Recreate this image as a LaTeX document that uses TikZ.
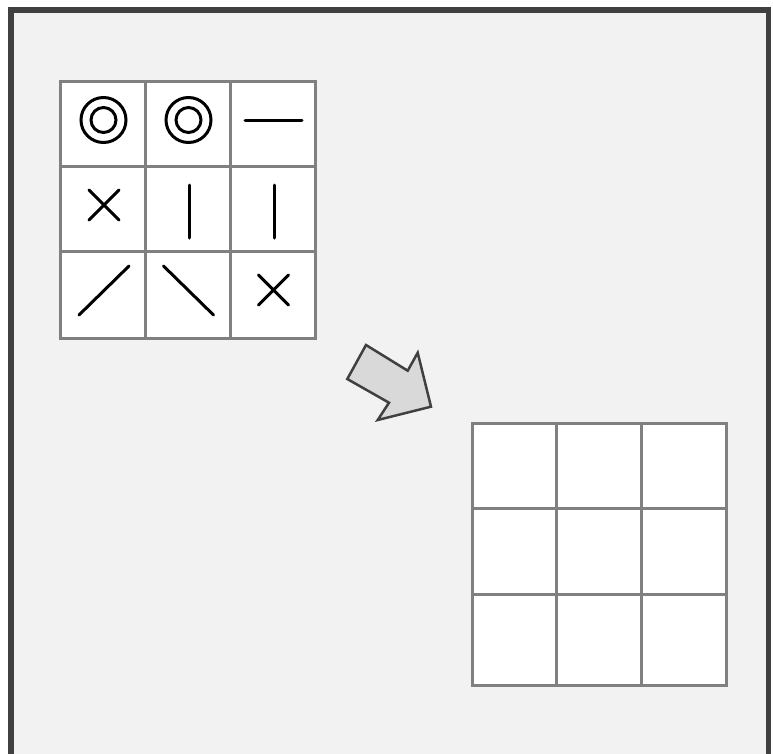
\documentclass[tikz,border=0pt]{standalone}
\usetikzlibrary{positioning}
\definecolor{FrameGray}{RGB}{64,64,64}
\definecolor{PaperGray}{RGB}{242,242,242}
\definecolor{GridGray}{RGB}{128,128,128}
\definecolor{ArrowFill}{RGB}{217,217,217}

\begin{document}
\begin{tikzpicture}[x=1pt, y=-1pt,
    frame/.style={draw=FrameGray, line width=5.5pt, fill=PaperGray},
    board/.style={draw=GridGray, line width=3pt, fill=white},
    gridline/.style={draw=GridGray, line width=3pt},
    glyph/.style={draw=black, line width=3pt, line cap=round},
    pointer/.style={draw=FrameGray, line width=2.5pt, fill=ArrowFill, line join=miter}
  ]
  \useasboundingbox (0,0) rectangle (773,753);
  \clip (0,0) rectangle (773,753);
  \path[frame] (11,10) rectangle (768.5,800);

  % left board, filled in
  \path[board] (60.5,81.5) rectangle (315,338);
  \foreach \x in {145.3,230} \draw[gridline] (\x,81.5) -- (\x,338);
  \foreach \y in {166,251.5} \draw[gridline] (60.5,\y) -- (315,\y);

  % first row
  \foreach \cx in {103.5,188.5} {
    \draw[glyph] (\cx,120) circle (22.5);
    \draw[glyph] (\cx,120) circle (12.5);
  }
  \draw[glyph] (245,120) -- (302,120);
  % second row
  \draw[glyph] (89,190) -- (119,220) (89,220) -- (119,190);
  \draw[glyph] (189,185) -- (189,238);
  \draw[glyph] (274,185) -- (274,238);
  % third row
  \draw[glyph] (79,315) -- (129,266);
  \draw[glyph] (163.5,266) -- (213.5,315);
  \draw[glyph] (258.5,275) -- (288.5,305) (258.5,305) -- (288.5,275);

  % arrow
  \path[pointer] (366,345) -- (407.7,370.7) -- (417.7,352.7) -- (431,406.7)
    -- (377.7,420) -- (389,402.7) -- (347.3,379) -- cycle;

  % right board, empty
  \path[board] (472,423.3) rectangle (726.7,685);
  \foreach \x in {556.7,641.3} \draw[gridline] (\x,423.3) -- (\x,685);
  \foreach \y in {508.7,594} \draw[gridline] (472,\y) -- (726.7,\y);
\end{tikzpicture}
\end{document}
